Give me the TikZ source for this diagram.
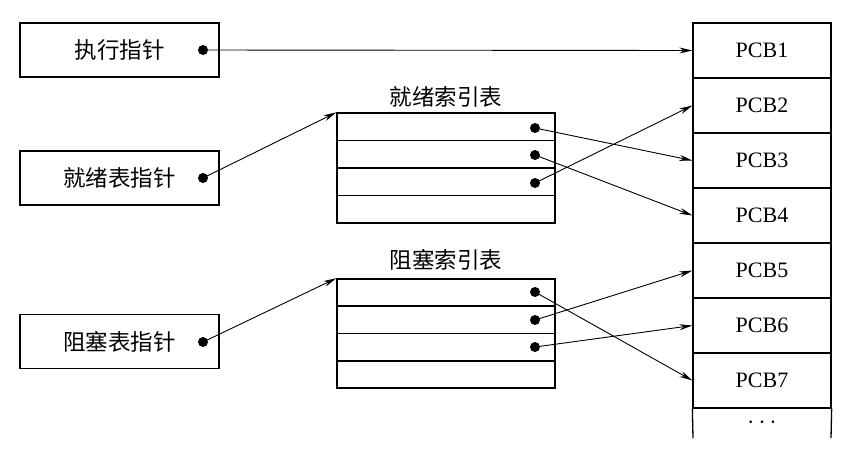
\documentclass[tikz,border=0pt]{standalone}
\usepackage{fontspec}
\setmainfont{Liberation Serif}
\newfontfamily\cjk{Noto Sans CJK SC}
\usetikzlibrary{arrows.meta}
\begin{document}
\begin{tikzpicture}[x=1pt,y=-1pt,
  ptrbox/.style={draw,line width=1.4pt,minimum width=199pt,minimum height=54pt,inner sep=0pt,font=\cjk\fontsize{22.5}{22.5}\selectfont},
  idxrow/.style={draw,line width=1.3pt,minimum width=218pt,minimum height=27.5pt,inner sep=0pt},
  pcbrow/.style={draw,line width=1.3pt,minimum width=138pt,minimum height=55pt,inner sep=0pt,font=\fontsize{22}{22}\selectfont},
  title/.style={font=\cjk\fontsize{22.5}{22.5}\selectfont,inner sep=0pt},
  dot/.style={circle,fill=black,inner sep=0pt,minimum size=10pt},
  arr/.style={line width=0.9pt,-{Stealth[length=13pt,width=6pt]}}]
\useasboundingbox (0,0) rectangle (859,456);
% left pointer boxes
\node[ptrbox] (exec) at (119.5,50) {执行指针};
\node[ptrbox] (ready) at (119.5,178) {就绪表指针};
\node[ptrbox] (block) at (119.5,341.5) {阻塞表指针};
\node[dot] (ed) at (203,50) {};
\node[dot] (rd) at (203,178) {};
\node[dot] (bd) at (203,342) {};
% ready index table
\node[title] (rtitle) at (446,97) {就绪索引表};
\foreach \i in {1,...,4} {
  \node[idxrow] (r\i) at (446,{113+27.5*(\i-0.5)}) {};
}
\node[dot] (rd1) at (535,128) {};
\node[dot] (rd2) at (535,155) {};
\node[dot] (rd3) at (535,183) {};
% blocked index table
\node[title] (btitle) at (446,260) {阻塞索引表};
\foreach \i in {1,...,4} {
  \node[idxrow] (b\i) at (446,{279+27.25*(\i-0.5)}) {};
}
\node[dot] (bd1) at (535,292) {};
\node[dot] (bd2) at (535,320) {};
\node[dot] (bd3) at (535,347) {};
% PCB column
\foreach \i in {1,...,7} {
  \node[pcbrow] (p\i) at (762,{23+55*(\i-0.5)}) {PCB\i};
}
\coordinate (pl) at (693,438);
\coordinate (pr) at (831,438);
\draw[line width=1.3pt] (p7.south west) -- (pl);
\draw[line width=1.3pt] (p7.south east) -- (pr);
\node[font=\fontsize{24}{24}\selectfont,inner sep=0pt] (more) at (762,423) {$\cdots$};
% connectors
\draw[arr] (ed.center) -- (p1.west);
\draw[arr] (rd.center) -- (r1.north west);
\draw[arr] (bd.center) -- (b1.north west);
\draw[arr] (rd1.center) -- (p3.west);
\draw[arr] (rd2.center) -- (p4.west);
\draw[arr] (rd3.center) -- (p2.west);
\draw[arr] (bd1.center) -- (p7.west);
\draw[arr] (bd2.center) -- (p5.west);
\draw[arr] (bd3.center) -- (p6.west);
\end{tikzpicture}
\end{document}
